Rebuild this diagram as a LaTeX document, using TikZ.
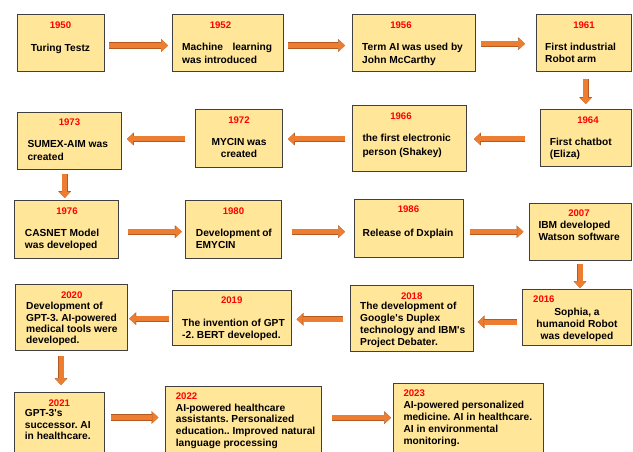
\documentclass[tikz,border=0pt]{standalone}
\usepackage{fontspec}
\setmainfont{Liberation Sans}
\usetikzlibrary{arrows.meta,calc}
\definecolor{boxfill}{HTML}{FFE699}
\definecolor{boxline}{HTML}{404040}
\definecolor{arrfill}{HTML}{ED7D31}
\definecolor{arrline}{HTML}{B25A1F}
\definecolor{yearred}{HTML}{FF0000}
\newcommand\evb[5]{\node[evbox, minimum width={(#4-#2)*1pt}, minimum height={(#5-#3)*1pt}] (#1) at ({(#2+#4)/2},{(#3+#5)/2}) {};}
\frenchspacing
\begin{document}
\begin{tikzpicture}[x=1pt,y=-1pt,
 evbox/.style={draw=boxline, fill=boxfill, line width=0.8pt, inner sep=0pt, outer sep=0pt},
 yr/.style={text=yearred, font=\fontsize{9.6}{11}\selectfont\bfseries, inner sep=0pt},
 body/.style={font=\fontsize{10.2}{#1}\selectfont\bfseries\frenchspacing, inner sep=0pt, align=left, anchor=north west},
 body/.default=12,
 bodyc/.style={body=#1, align=center, anchor=north},
 bodyc/.default=12,
 arr/.style={draw=arrfill, line width=5pt, -{Triangle[length=6pt,width=11pt,line width=0.1pt]},
   preaction={draw=arrline, line width=6.2pt, -{Triangle[length=6.8pt,width=12.6pt,line width=0.1pt]}}}
]
\path[use as bounding box] (0,0) rectangle (633,452);
\clip (0,0) rectangle (633,452);

% Row 1
\evb{b1950}{17}{14}{104}{71}
\node[yr] (y1950) at (60.5,25) {1950};
\node[bodyc] (t1950) at (60.5,44.2) {Turing Testz};

\evb{b1952}{172}{14}{283}{71}
\node[yr] (y1952) at (220.5,25) {1952};
\node[body=13] (t1952) at (182,43.2) {\makebox[90pt][s]{Machine learning}\\was introduced};

\evb{b1956}{352}{14}{475}{71}
\node[yr] (y1956) at (401,25) {1956};
\node[body=13] (t1956) at (362,43.2) {Term AI was used by\\John McCarthy};

\evb{b1961}{536}{14}{631.5}{71}
\node[yr] (y1961) at (584,25) {1961};
\node[body=12] (t1961) at (545,43.2) {First industrial\\Robot arm};

% Row 2
\evb{b1964}{540}{109}{631.5}{166}
\node[yr] (y1964) at (588,120) {1964};
\node[body=12] (t1964) at (549.7,138.2) {First chatbot\\(Eliza)};

\evb{b1966}{352}{105.7}{466.7}{171}
\node[yr] (y1966) at (401,115.7) {1966};
\node[body=13.5] (t1966) at (362.3,134.2) {the first electronic\\person (Shakey)};

\evb{b1972}{195.7}{109}{282.7}{167}
\node[yr] (y1972) at (239,120) {1972};
\node[bodyc=12] (t1972) at (239,138.2) {MYCIN was\\created};

\evb{b1973}{17}{112}{121}{169}
\node[yr] (y1973) at (69.5,122) {1973};
\node[body=13] (t1973) at (27.3,140.2) {SUMEX-AIM was\\created};

% Row 3
\evb{b1976}{14.3}{200}{118.7}{258}
\node[yr] (y1976) at (67,210.7) {1976};
\node[body=11.7] (t1976) at (24.7,228.9) {CASNET Model\\was developed};

\evb{b1980}{185.7}{200}{281.7}{258}
\node[yr] (y1980) at (233.5,210.7) {1980};
\node[body=11.7] (t1980) at (195.7,228.9) {\makebox[76pt][s]{Development of}\\EMYCIN};

\evb{b1986}{354}{199.3}{463.3}{257.3}
\node[yr] (y1986) at (408.5,209) {1986};
\node[bodyc] (t1986) at (408,228.9) {Release of Dxplain};

\evb{b2007}{529}{203.3}{631.5}{260.3}
\node[yr] (y2007) at (579,213.3) {2007};
\node[body=12.3] (t2007) at (538.3,220.9) {IBM developed\\Watson software};

% Row 4
\evb{b2016}{522.3}{289.3}{631.5}{345.3}
\node[yr, anchor=west] (y2016) at (533,299.3) {2016};
\node[bodyc=12.2] (t2016) at (577,307.5) {Sophia, a\\humanoid Robot\\was developed};

\evb{b2018}{350.7}{285.3}{473.7}{351.3}
\node[yr] (y2018) at (411.7,295.7) {2018};
\node[body=11.8] (t2018) at (360,302.2) {The development of\\Google\textquotesingle s Duplex\\technology and IBM\textquotesingle s\\Project Debater.};

\evb{b2019}{172}{290}{291.7}{345.3}
\node[yr] (y2019) at (231.7,300.3) {2019};
\node[body=11.7] (t2019) at (182,318.9) {The invention of GPT\\-2. BERT developed.};

\evb{b2020}{15.7}{284}{127.7}{350.7}
\node[yr] (y2020) at (71.7,294.7) {2020};
\node[body=11.3] (t2020) at (26,302.2) {Development of\\GPT-3. AI-powered\\medical tools were\\developed.};

% Row 5
\evb{b2021}{14.3}{392.3}{104.3}{470}
\node[yr] (y2021) at (59.3,402.7) {2021};
\node[body=11.4] (t2021) at (24.7,409.5) {GPT-3\textquotesingle s\\successor. AI\\in healthcare.};

\evb{b2022}{165.7}{386.7}{321.7}{470}
\node[yr, anchor=west] (y2022) at (175.7,395.7) {2022};
\node[body=11.8] (t2022) at (175.7,403.5) {AI-powered healthcare\\assistants. Personalized\\education.. Improved natural\\language processing};

\evb{b2023}{393.7}{383.3}{543.7}{470}
\node[yr, anchor=west] (y2023) at (403.3,393.3) {2023};
\node[body=11.8] (t2023) at (403.3,401.2) {AI-powered personalized\\medicine. AI in healthcare.\\AI in environmental\\monitoring.};

% Connectors
\draw[arr] ([xshift=5pt]b1950.east |- 0,45.5) -- ([xshift=-4pt]b1952.west |- 0,45.5);
\draw[arr] ([xshift=5pt]b1952.east |- 0,45.5) -- ([xshift=-7pt]b1956.west |- 0,45.5);
\draw[arr] ([xshift=6.3pt]b1956.east |- 0,43.7) -- ([xshift=-11pt]b1961.west |- 0,43.7);
\draw[arr] ([yshift=-8pt]585.7,0 |- b1961.south) -- ([yshift=5pt]585.7,0 |- b1964.north);
\draw[arr] ([xshift=-15pt]b1964.west |- 0,139) -- ([xshift=7.3pt]b1966.east |- 0,139);
\draw[arr] ([xshift=-7pt]b1966.west |- 0,139) -- ([xshift=5.3pt]b1972.east |- 0,139);
\draw[arr] ([xshift=-10.7pt]b1972.west |- 0,139) -- ([xshift=6pt]b1973.east |- 0,139);
\draw[arr] ([yshift=-5pt]64.7,0 |- b1973.south) -- ([yshift=2pt]64.7,0 |- b1976.north);
\draw[arr] ([xshift=9pt]b1976.east |- 0,231.7) -- ([xshift=-4pt]b1980.west |- 0,231.7);
\draw[arr] ([xshift=10pt]b1980.east |- 0,231.7) -- ([xshift=-9pt]b1986.west |- 0,231.7);
\draw[arr] ([xshift=6.4pt]b1986.east |- 0,231.7) -- ([xshift=-5.7pt]b2007.west |- 0,231.7);
\draw[arr] ([yshift=-3.7pt]580,0 |- b2007.south) -- ([yshift=1.3pt]580,0 |- b2016.north);
\draw[arr] ([xshift=-5.6pt]b2016.west |- 0,322) -- ([xshift=4pt]b2018.east |- 0,322);
\draw[arr] ([xshift=-7.4pt]b2018.west |- 0,319.3) -- ([xshift=5pt]b2019.east |- 0,319.3);
\draw[arr] ([xshift=-3pt]b2019.west |- 0,318.7) -- ([xshift=1.6pt]b2020.east |- 0,318.7);
\draw[arr] ([yshift=-5.3pt]61,0 |- b2020.south) -- ([yshift=7.3pt]61,0 |- b2021.north);
\draw[arr] ([xshift=6.7pt]b2021.east |- 0,417.5) -- ([xshift=-7.4pt]b2022.west |- 0,417.5);
\draw[arr] ([xshift=10.3pt]b2022.east |- 0,417.7) -- ([xshift=-2.7pt]b2023.west |- 0,417.7);
\end{tikzpicture}
\end{document}
